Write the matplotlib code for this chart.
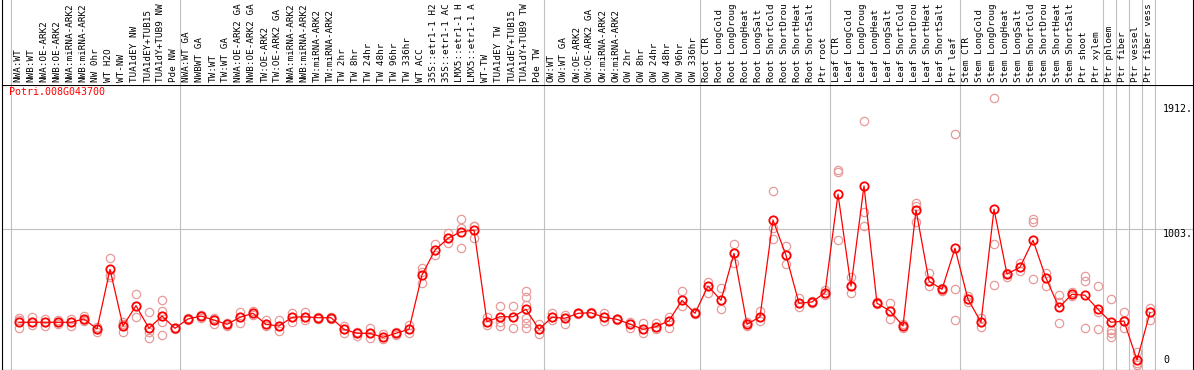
"""
plot.py - expression profile of one poplar gene across sample columns.
Means (red) joined by a line, replicates as pale circles.
"""
import matplotlib.pyplot as plt
from matplotlib.transforms import blended_transform_factory

GENE = "Potri.008G043700"

# column labels as shown (the source cuts them to 14 characters)
LABELS = [
    # NW group
    "NWA:WT", "NWB:WT", "NWA:OE-ARK2", "NWB:OE-ARK2", "NWA:miRNA-ARK2",
    "NWB:miRNA-ARK2", "NW 0hr", "WT H2O", "WT-NW", "TUA1dEY NW",
    "TUA1dEY+TUB15", "TUA1dY+TUB9 NW", "Pde NW",
    # TW group
    "NWA:WT GA", "NWBWT GA", "TW:WT", "TW:WT GA", "NWA:OE-ARK2 GA",
    "NWB:OE-ARK2 GA", "TW:OE-ARK2", "TW:OE-ARK2 GA", "NWA:miRNA-ARK2",
    "NWB:miRNA-ARK2", "TW:miRNA-ARK2", "TW:miRNA-ARK2", "TW 2hr", "TW 8hr",
    "TW 24hr", "TW 48hr", "TW 96hr", "TW 336hr", "WT ACC", "35S::etr1-1 H2",
    "35S::etr1-1 AC", "LMX5::etr1-1 H", "LMX5::etr1-1 A", "WT-TW",
    "TUA1dEY TW", "TUA1dEY+TUB15", "TUA1dY+TUB9 TW", "Pde TW",
    # OW group
    "OW:WT", "OW:WT GA", "OW:OE-ARK2", "OW:OE-ARK2 GA", "OW:miRNA-ARK2",
    "OW:miRNA-ARK2", "OW 2hr", "OW 8hr", "OW 24hr", "OW 48hr", "OW 96hr",
    "OW 336hr",
    # root
    "Root CTR", "Root LongCold", "Root LongDroug", "Root LongHeat",
    "Root LongSalt", "Root ShortCold", "Root ShortDrou", "Root ShortHeat",
    "Root ShortSalt", "Ptr root",
    # leaf
    "Leaf CTR", "Leaf LongCold", "Leaf LongDroug", "Leaf LongHeat",
    "Leaf LongSalt", "Leaf ShortCold", "Leaf ShortDrou", "Leaf ShortHeat",
    "Leaf ShortSalt", "Ptr leaf",
    # stem
    "Stem CTR", "Stem LongCold", "Stem LongDroug", "Stem LongHeat",
    "Stem LongSalt", "Stem ShortCold", "Stem ShortDrou", "Stem ShortHeat",
    "Stem ShortSalt", "Ptr shoot", "Ptr xylem",
    # single columns
    "Ptr phloem", "Ptr fiber", "Ptr vessel", "Ptr fiber vess",
]
GROUP_SIZES = [13, 28, 12, 10, 10, 11, 1, 1, 1, 1]

MEANS = [
    329, 329, 329, 329, 329, 353, 280, 713, 302, 449, 285, 374, 285,
    353, 374, 345, 314, 365, 394, 314, 302, 365, 369, 362, 362, 278, 249,
    249, 220, 249, 278, 672, 853, 938, 986, 998, 333, 369, 369, 423, 278,
    365, 358, 394, 398, 365, 350, 316, 278, 297, 340, 488, 394,
    592, 488, 829, 314, 369, 1071, 815, 467, 476, 544,
    1258, 592, 1318, 467, 411, 302, 1144, 628, 568, 866,
    496, 329, 1149, 679, 728, 924, 650, 437, 532, 525, 423,
    329, 338, 55, 400,
]

REPS = [
    [357, 345, 285], [369, 329, 309], [352, 329, 302], [345, 329, 316],
    [350, 329, 302], [374, 345, 340], [297, 280, 261], [793, 672, 655],
    [333, 318, 256], [534, 449, 369], [403, 285, 261, 213],
    [490, 413, 374, 329, 237], [290, 285, 280],
    [357, 353, 348], [380, 374, 362], [358, 350, 316], [326, 314, 302],
    [406, 365, 321], [411, 394, 380], [345, 314, 302], [345, 302, 266],
    [398, 365, 329], [406, 369, 345], [369, 362, 352], [369, 362, 350],
    [304, 278, 253], [257, 249, 229], [290, 249, 217], [244, 220, 210],
    [257, 249, 240], [309, 278, 249], [720, 696, 612], [895, 853, 817],
    [979, 938, 906], [1076, 1011, 866], [1030, 1025, 938], [369, 333, 309],
    [449, 333, 304], [449, 369, 285], [556, 515, 454, 358, 321, 285],
    [316, 278, 244],
    [394, 365, 345], [380, 358, 316], [398, 394, 390], [402, 398, 394],
    [394, 365, 340], [356, 350, 344], [330, 316, 285], [321, 278, 249],
    [321, 297, 280], [369, 340, 290], [556, 488, 447], [400, 394, 388],
    [623, 592, 539], [575, 488, 425], [895, 829, 757], [330, 314, 300],
    [411, 369, 340], [1281, 1011, 933], [882, 815, 752], [507, 467, 440],
    [483, 476, 470], [560, 544, 530],
    [1434, 1420, 926], [660, 592, 539], [1787, 1131, 1028], [475, 467, 460],
    [471, 411, 350], [320, 302, 285], [1192, 1173, 1059], [689, 628, 592],
    [580, 568, 556], [1695, 568, 345],
    [520, 496, 475], [362, 329, 297], [1954, 895, 599], [689, 679, 660],
    [761, 728, 701], [1081, 1059, 641], [684, 650, 592], [527, 478, 321],
    [545, 532, 520], [667, 628, 285], [592, 400, 278],
    [496, 273, 249, 224], [401, 338, 285], [111, 35, 19], [430, 400, 345],
]

Y_TICKS = [0, 1003, 1912]
Y_TICK_LABELS = ["0", "1003.", "1912."]
GRID_Y = 1003

RED = "#ff0000"
PINK = "#e89a9a"
GREY = "#c0c0c0"
MONO = "DejaVu Sans Mono"

# layout in pixels
W, H = 1194, 370
LABEL_H = 85          # height of the label strip at the top
X0_PX, STEP_PX = 19, 13   # first column centre and column pitch
LEFT_PX, RIGHT_PX = 1.5, 1193.0
Y_MIN, Y_MAX = -13.8, 2050.8

fig = plt.figure(figsize=(W / 100, H / 100), dpi=100)
left = LEFT_PX / W
width = (RIGHT_PX - LEFT_PX) / W
ax = fig.add_axes([left, 0.5 / H, width, (H - LABEL_H - 0.5) / H])
ax_lab = fig.add_axes([left, (H - LABEL_H) / H, width, LABEL_H / H], sharex=ax)

xlim = ((LEFT_PX - X0_PX) / STEP_PX, (RIGHT_PX - X0_PX) / STEP_PX)
ax.set_xlim(*xlim)
ax.set_ylim(Y_MIN, Y_MAX)
ax_lab.set_ylim(0, 1)

for a in (ax, ax_lab):
    a.set_xticks([])
    a.set_yticks([])
    for s in a.spines.values():
        s.set_linewidth(0.8)
        s.set_color("black")
ax_lab.spines["top"].set_visible(False)
ax_lab.spines["bottom"].set_visible(False)

# group separators
bounds = [0]
for g in GROUP_SIZES:
    bounds.append(bounds[-1] + g)
for b in bounds:
    ax.axvline(b - 0.59, color=GREY, lw=0.8, zorder=0)
    ax_lab.axvline(b - 0.59, color=GREY, lw=0.8, zorder=0)

ax.axhline(GRID_Y, color=GREY, lw=0.8, zorder=0)

x = list(range(len(MEANS)))

# replicates
rx, ry = [], []
for i, vals in enumerate(REPS):
    for v in vals:
        rx.append(i)
        ry.append(v)
ax.plot(rx, ry, ls="none", marker="o", ms=6, mfc="none", mec=PINK,
        mew=0.9, zorder=2)

# means + line
ax.plot(x, MEANS, color=RED, lw=0.9, zorder=3)
ax.plot(x, MEANS, ls="none", marker="o", ms=6, mfc="none", mec=RED,
        mew=1.3, zorder=4)

# column labels
trans = blended_transform_factory(ax_lab.transData, ax_lab.transAxes)
for i, lab in enumerate(LABELS):
    ax_lab.text(i - 0.08, 2.7 / LABEL_H, lab, rotation=90, ha="center",
                va="bottom", family=MONO, fontsize=6.7, transform=trans)

# value labels on the right
n = len(LABELS)
for v, lab in zip(Y_TICKS, Y_TICK_LABELS):
    ax.text(n, v + (22 if v == 0 else 0), lab, ha="left",
            va="bottom" if v == 0 else "top", family=MONO, fontsize=7.2)

ax.text(-0.76, 0.992, GENE, color=RED, family=MONO, fontsize=7.2,
        ha="left", va="top",
        transform=blended_transform_factory(ax.transData, ax.transAxes))

fig.savefig("out.png", dpi=100)
